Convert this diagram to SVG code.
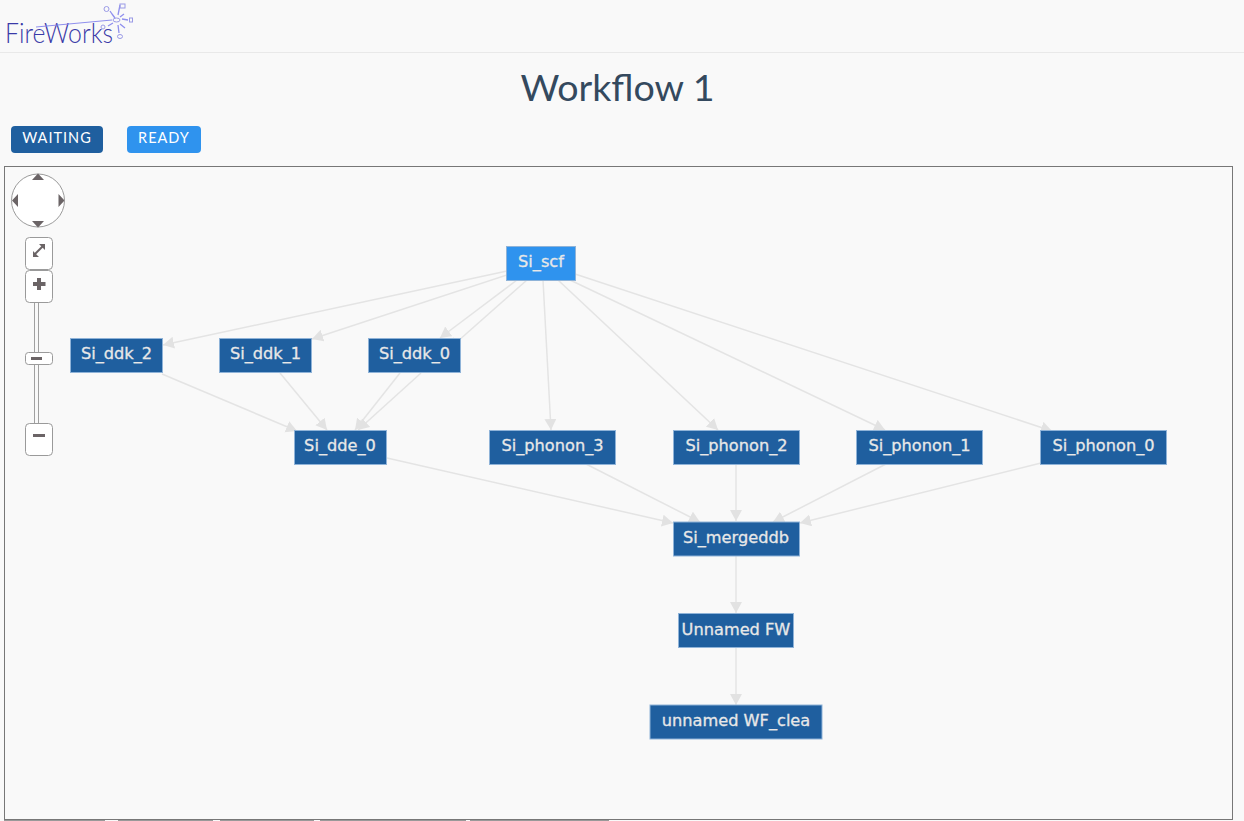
<svg xmlns="http://www.w3.org/2000/svg" width="1244" height="821" viewBox="0 0 1244 821">
<style>
.n{fill:#1f5f9f;stroke:#8fb3d8;stroke-width:1}
.r{fill:#2f93ee}
.t{font-family:"DejaVu Sans",sans-serif;font-size:16.200px;fill:#e8e8e8;stroke:#e8e8e8;stroke-width:.3;text-anchor:middle}
.e{stroke:#e4e4e4;stroke-width:1.500;fill:none;marker-end:url(#a)}
.c{fill:#fff;stroke:#9a9a9a;stroke-width:1}
.g{fill:#6b6466}
.b{font-family:"Lato","Liberation Sans",sans-serif;font-size:14.500px;fill:#fff;letter-spacing:1px;text-anchor:middle}
.l{fill:none;stroke:#9a9ae6;stroke-width:1}
.d{stroke:#8f8fee;stroke-width:1.300;fill:none}
</style>
<defs><marker id="a" markerUnits="userSpaceOnUse" markerWidth="13" markerHeight="13" refX="11" refY="6" orient="auto"><path d="M0 0L11 6L0 12Z" fill="#e2e2e2"/></marker></defs>
<rect width="1244" height="821" fill="#f9f9f9"/>
<path d="M0 52.500H1244" stroke="#e9e9e9" fill="none"/>
<g id="logo">
<text x="5" y="43" font-family="Lato,'Liberation Sans',sans-serif" font-size="28" font-weight="300" fill="#3a3aa8" textLength="108" lengthAdjust="spacingAndGlyphs">FireWorks</text>
<path d="M36 27L112 20" stroke="#8f8fee" stroke-width="1" fill="none"/>
<ellipse class="l" cx="116.500" cy="20" rx="3.500" ry="2"/>
<path class="d" d="M110 11L114 17M120 5L118 15M122 19L128 20M120 24L125 28M113 23L108 26M118 25L119 33M112 14L115 18M124 14L120 17"/>
<circle class="l" cx="106.500" cy="9" r="2.500"/><rect class="l" x="120" y="4" width="5" height="4"/><rect class="l" x="129.500" y="18" width="3" height="4"/><ellipse class="l" cx="120" cy="36.500" rx="2.500" ry="2"/><circle class="l" cx="103" cy="27" r="2"/>
</g>
<text x="617.500" y="100.500" font-family="Lato,'Liberation Sans',sans-serif" font-size="37.600" fill="#34495e" text-anchor="middle">Workflow 1</text>
<g id="legend-waiting"><rect x="11" y="126" width="92" height="27" rx="4" fill="#1f5f9f"/><text class="b" x="57" y="143">WAITING</text></g>
<g id="legend-ready"><rect x="127" y="126" width="74" height="27" rx="4" fill="#2f93ee"/><text class="b" x="164" y="143">READY</text></g>
<rect x="4.500" y="166.500" width="1228" height="653" fill="#f9f9f9" stroke="#777"/>
<path d="M4 820.500H105M118 820.500H213M220 820.500H314M320 820.500H466M470 820.500H609" stroke="#999" fill="none"/>
<g id="nav">
<circle class="c" cx="38" cy="200.500" r="26.500"/>
<path class="g" d="M38 173.500L44 180H32ZM38 227.500L44 221H32ZM12 200.500L18 194V207ZM64.500 200.500L58.500 194V207Z"/>
<rect class="c" x="25.500" y="237.500" width="27" height="32" rx="4"/>
<path d="M35 254L43 246" stroke="#6b6466" stroke-width="2" fill="none"/><path class="g" d="M33 257V251L39 257ZM45 244V250L39 244Z"/>
<rect class="c" x="25.500" y="270.500" width="27" height="32" rx="4"/>
<path class="g" d="M37 278H41V282H45.500V286H41V290H37V286H33V282H37Z"/>
<path d="M34.500 303V352M34.500 365V423M38.500 303V352M38.500 365V423" stroke="#a0a0a0" fill="none"/>
<rect class="c" x="25.500" y="352.500" width="27" height="12" rx="3"/>
<rect class="g" x="31" y="357" width="11" height="3"/>
<rect class="c" x="25.500" y="423.500" width="27" height="32" rx="4"/>
<rect class="g" x="33" y="434" width="12" height="3"/>
</g>
<g id="connectors">
<path class="e" d="M507 271L163 345"/>
<path class="e" d="M510 274L312 339"/>
<path class="e" d="M517 280L440 338"/>
<path class="e" d="M527 280L449 349"/>
<path class="e" d="M543 280L551 430"/>
<path class="e" d="M558 280L718 430"/>
<path class="e" d="M570 280L885 430"/>
<path class="e" d="M575 274L1052 431"/>
<path class="e" d="M162 374L297 431"/>
<path class="e" d="M280 373L327 430"/>
<path class="e" d="M400 373L355 430"/>
<path class="e" d="M421 373L358 430"/>
<path class="e" d="M387 458L673 523"/>
<path class="e" d="M586 464L700 522"/>
<path class="e" d="M736 464V521"/>
<path class="e" d="M886 464L773 522"/>
<path class="e" d="M1041 463L800 523"/>
<path class="e" d="M736 556V613"/>
<path class="e" d="M736 648V705"/>
</g>
<g id="Si_scf"><rect class="n r" x="506.500" y="246.500" width="69" height="34"/><text class="t" x="541" y="267">Si_scf</text></g>
<g id="Si_ddk_2"><rect class="n" x="70.500" y="338.500" width="92" height="34"/><text class="t" x="116.500" y="359">Si_ddk_2</text></g>
<g id="Si_ddk_1"><rect class="n" x="219.500" y="338.500" width="92" height="34"/><text class="t" x="265.500" y="359">Si_ddk_1</text></g>
<g id="Si_ddk_0"><rect class="n" x="368.500" y="338.500" width="92" height="34"/><text class="t" x="414.500" y="359">Si_ddk_0</text></g>
<g id="Si_dde_0"><rect class="n" x="294.500" y="430.500" width="92" height="34"/><text class="t" x="340" y="451">Si_dde_0</text></g>
<g id="Si_phonon_3"><rect class="n" x="489.500" y="430.500" width="126" height="34"/><text class="t" x="552.500" y="451">Si_phonon_3</text></g>
<g id="Si_phonon_2"><rect class="n" x="673.500" y="430.500" width="126" height="34"/><text class="t" x="736.500" y="451">Si_phonon_2</text></g>
<g id="Si_phonon_1"><rect class="n" x="856.500" y="430.500" width="126" height="34"/><text class="t" x="919.500" y="451">Si_phonon_1</text></g>
<g id="Si_phonon_0"><rect class="n" x="1040.500" y="430.500" width="126" height="34"/><text class="t" x="1103.500" y="451">Si_phonon_0</text></g>
<g id="Si_mergeddb"><rect class="n" x="673.500" y="522" width="126" height="34"/><text class="t" x="736" y="543">Si_mergeddb</text></g>
<g id="Unnamed_FW"><rect class="n" x="678.500" y="613.500" width="115" height="34"/><text class="t" x="736" y="634.500">Unnamed FW</text></g>
<g id="unnamed_WF_clea"><rect class="n" x="650" y="705" width="172" height="34"/><text class="t" x="736" y="726">unnamed WF_clea</text></g>
</svg>
